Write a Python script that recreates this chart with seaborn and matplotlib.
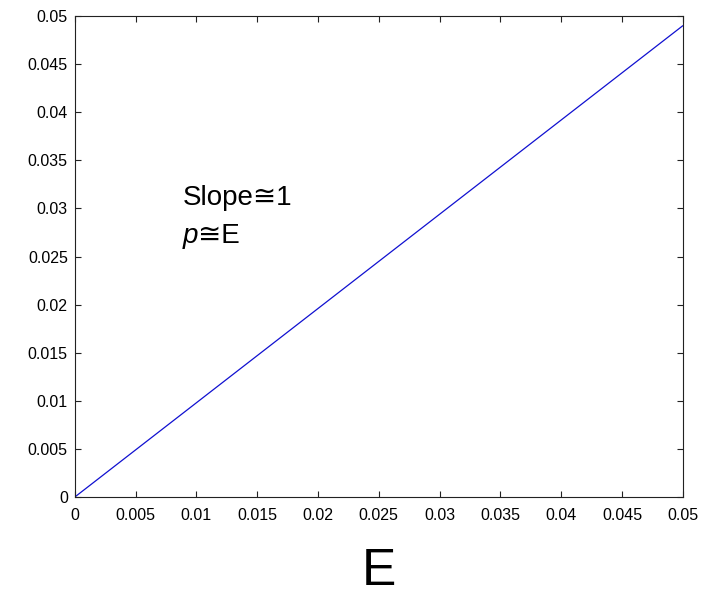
import matplotlib
matplotlib.use('Agg')
import matplotlib.pyplot as plt
import pandas as pd
import seaborn as sns

# Data
E = [0.0, 0.05]
p = [0.0, 0.049]
ticks = [0, 0.005, 0.01, 0.015, 0.02, 0.025, 0.03, 0.035, 0.04, 0.045, 0.05]
tick_labels = ['0', '0.005', '0.01', '0.015', '0.02', '0.025', '0.03', '0.035', '0.04', '0.045', '0.05']

df = pd.DataFrame({'E': E, 'p': p})

sns.set_style('ticks')
plt.rcParams['font.family'] = ['Liberation Sans', 'DejaVu Sans']
plt.rcParams['text.color'] = 'black'
plt.rcParams['axes.labelcolor'] = 'black'

fig = plt.figure(figsize=(7.12, 5.96), dpi=100)
ax = fig.add_axes([0.105, 0.166, 0.854, 0.807])

sns.lineplot(data=df, x='E', y='p', ax=ax, color='#1010d0', linewidth=0.9)

ax.set_xlim(0, 0.05)
ax.set_ylim(0, 0.05)
ax.set_xticks(ticks)
ax.set_xticklabels(tick_labels)
ax.set_yticks(ticks)
ax.set_yticklabels(tick_labels)
ax.tick_params(direction='in', length=4.5, width=0.8, labelsize=11.5,
               top=True, right=True, colors='#222222', labelcolor='black')
ax.tick_params(axis='x', pad=8)
ax.tick_params(axis='y', pad=5)
for s in ax.spines.values():
    s.set_linewidth(0.8)
    s.set_color('#222222')

# big axis label, kept inside the bottom edge
ax.set_xlabel('E', fontsize=37, labelpad=17)
ax.set_ylabel('')

ax.text(0.0089, 0.0304, 'Slope\u22451', fontsize=20)
pt = ax.text(0.0089, 0.0264, 'p', fontsize=20, style='italic')
ax.annotate('\u2245E', xy=(1, 0), xycoords=pt, va='bottom', ha='left', fontsize=20)

fig.savefig('out.png', dpi=100)
